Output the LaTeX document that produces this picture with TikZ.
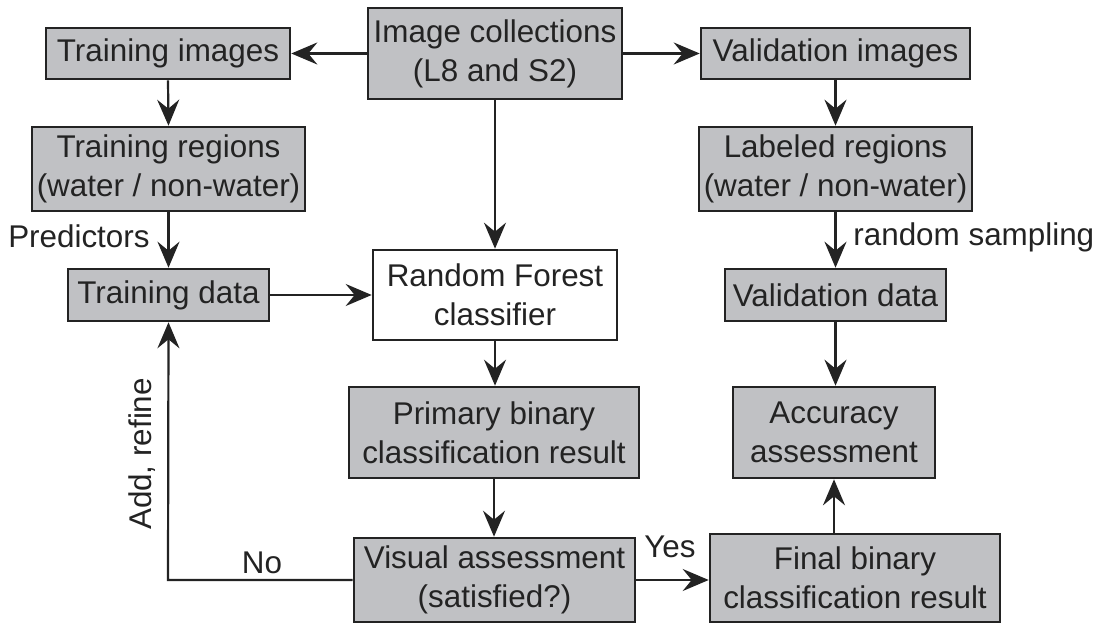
\documentclass[tikz,border=0pt]{standalone}
\usepackage{fontspec}
\setmainfont{Liberation Sans}
\usetikzlibrary{arrows.meta}
\definecolor{boxgray}{RGB}{192,193,196}
\definecolor{ink}{RGB}{35,35,35}
\begin{document}
\begin{tikzpicture}[x=0.5pt,y=-0.5pt,
  font=\fontsize{15.7}{19.5}\selectfont,
  box/.style={draw=ink,line width=1.3pt,fill=boxgray,text=ink,align=center,inner sep=0pt},
  wbox/.style={box,fill=white},
  arr/.style={draw=ink,line width=1.1pt,-{Stealth[length=13pt,width=11pt,inset=4.5pt]}},
  lbl/.style={text=ink,inner sep=0pt}]
\useasboundingbox (0,0) rectangle (1102,624);
\fill[white] (0,0) rectangle (1102,624);

\node[box,minimum width=127pt,minimum height=45.5pt] (coll) at (495,53.5) {Image collections\\(L8 and S2)};
\node[box,minimum width=122pt,minimum height=25.5pt] (trimg) at (168,53.5) {Training images};
\node[box,minimum width=134.5pt,minimum height=25.5pt] (valimg) at (835.5,53.5) {Validation images};
\node[box,minimum width=136.5pt,minimum height=42pt] (trreg) at (168.5,169) {Training regions\\(water / non-water)};
\node[box,minimum width=136.5pt,minimum height=42pt] (labreg) at (835.5,169) {Labeled regions\\(water / non-water)};
\node[box,minimum width=100.5pt,minimum height=26pt] (trdata) at (168.5,295) {Training data};
\node[wbox,minimum width=122pt,minimum height=45pt] (rf) at (495,295) {Random Forest\\classifier};
\node[box,minimum width=110.5pt,minimum height=26pt] (valdata) at (835.5,295) {Validation data};
\node[box,minimum width=145pt,minimum height=45.5pt] (prim) at (494,432.5) {Primary binary\\classification result};
\node[box,minimum width=101pt,minimum height=45.5pt] (acc) at (834,432.5) {Accuracy\\assessment};
\node[box,minimum width=140.5pt,minimum height=42pt] (vis) at (494.5,580) {Visual assessment\\(satisfied?)};
\node[box,minimum width=145pt,minimum height=44pt] (final) at (855,578) {Final binary\\classification result};

\coordinate (corner) at (168,580);

\draw[arr] (coll.west |- trimg.east) -- (trimg.east);
\draw[arr] (coll.east |- valimg.west) -- (valimg.west);
\draw[arr] (coll.south) -- (rf.north);
\draw[arr] (trimg.south) -- (trreg.north);
\draw[arr] (trreg.south) -- (trdata.north);
\draw[arr] (trdata.east) -- (rf.west);
\draw[arr] (rf.south) -- (rf.south |- prim.north);
\draw[arr] (prim.south) -- (prim.south |- vis.north);
\draw[arr] (valimg.south) -- (labreg.north);
\draw[arr] (labreg.south) -- (labreg.south |- valdata.north);
\draw[arr] (valdata.south) -- (valdata.south |- acc.north);
\draw[arr] (vis.east) -- (vis.east -| final.west);
\draw[arr] (acc.south |- final.north) -- (acc.south);
\draw[arr] (vis.west) -- (corner) -- (trdata.south);

\node[lbl,anchor=east] (pred) at (150,236) {Predictors};
\node[lbl,anchor=west] (rs) at (853,237) {random sampling};
\node[lbl,rotate=90] (add) at (142,454) {Add, refine};
\node[lbl] (no) at (262,563) {No};
\node[lbl] (yes) at (670,547) {Yes};
\end{tikzpicture}
\end{document}
